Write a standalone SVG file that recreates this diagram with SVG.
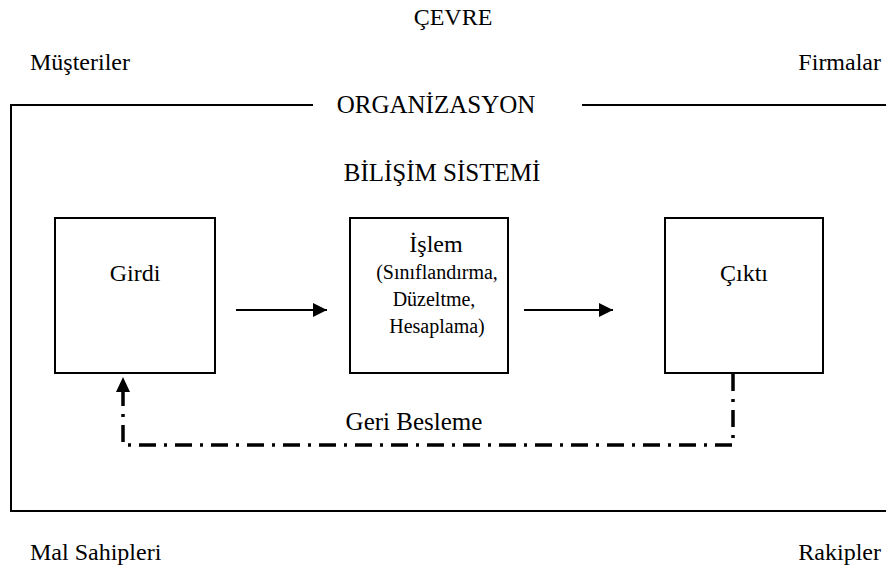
<svg xmlns="http://www.w3.org/2000/svg" width="886" height="577" viewBox="0 0 886 577" font-family="'Liberation Serif', 'DejaVu Serif', serif">
  <style>
    .lbl { font-size: 24px; font-family: 'Liberation Serif', 'DejaVu Serif', serif; fill: #000; }
    .big { font-size: 25px; }
    .sub { font-size: 20px; font-family: 'Liberation Serif', 'DejaVu Serif', serif; fill: #000; }
    .box { fill: #fff; stroke: #000; stroke-width: 2; }
    .frame { fill: none; stroke: #000; stroke-width: 2; }
    .flow { stroke: #000; stroke-width: 2; fill: none; }
    .fb { stroke: #000; stroke-width: 3.5; fill: none; stroke-dasharray: 17 8 3 8; }
  </style>
  <defs>
    <marker id="arrow" viewBox="0 0 10 10" refX="10" refY="5" markerWidth="14" markerHeight="14" markerUnits="userSpaceOnUse" orient="auto">
      <path d="M0,0 L10,5 L0,10 Z" fill="#000"/>
    </marker>
  </defs>
  <rect width="886" height="577" fill="#fff"/>

  <!-- environment labels -->
  <text class="lbl" x="453" y="25" text-anchor="middle">ÇEVRE</text>
  <text class="lbl" x="30" y="70">Müşteriler</text>
  <text class="lbl" x="881" y="70" text-anchor="end">Firmalar</text>
  <text class="lbl" x="30" y="560">Mal Sahipleri</text>
  <text class="lbl" x="881" y="560" text-anchor="end">Rakipler</text>

  <!-- organization frame -->
  <g id="organizasyon">
    <path class="frame" d="M313,105 H11 V511 H886"/>
    <path class="frame" d="M582,105 H886"/>
    <text class="lbl big" x="436" y="113" text-anchor="middle">ORGANİZASYON</text>
    <text class="lbl big" x="442" y="181" text-anchor="middle">BİLİŞİM SİSTEMİ</text>
  </g>

  <g id="girdi">
    <rect class="box" x="55" y="218" width="160" height="155"/>
    <text class="lbl" x="135" y="281" text-anchor="middle">Girdi</text>
  </g>

  <g id="islem">
    <rect class="box" x="350" y="218" width="158" height="155"/>
    <text class="lbl" x="436" y="252" text-anchor="middle">İşlem</text>
    <text class="sub" x="437" y="279" text-anchor="middle">(Sınıflandırma,</text>
    <text class="sub" x="434" y="306" text-anchor="middle">Düzeltme,</text>
    <text class="sub" x="437" y="333" text-anchor="middle">Hesaplama)</text>
  </g>

  <g id="cikti">
    <rect class="box" x="665" y="218" width="158" height="155"/>
    <text class="lbl" x="744" y="281" text-anchor="middle">Çıktı</text>
  </g>

  <g id="connectors">
    <line class="flow" x1="236" y1="310" x2="327" y2="310" marker-end="url(#arrow)"/>
    <line class="flow" x1="524" y1="310" x2="613" y2="310" marker-end="url(#arrow)"/>
    <path class="fb" d="M733,374 V445 H123 V392"/>
    <path d="M116,392 L123,377 L130,392 Z" fill="#000"/>
    <text class="lbl big" x="414" y="430" text-anchor="middle">Geri Besleme</text>
  </g>
</svg>
